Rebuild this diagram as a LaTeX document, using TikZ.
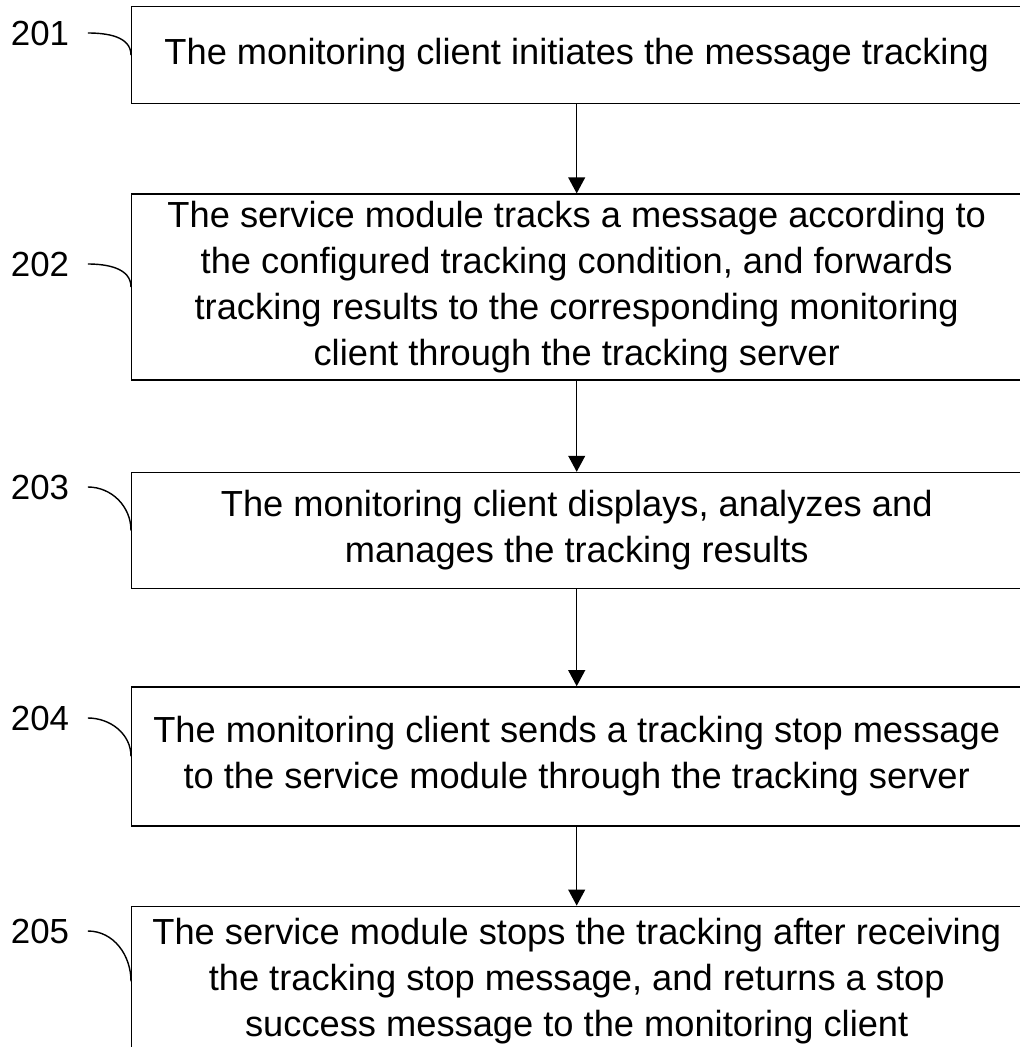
\documentclass[tikz,border=0pt]{standalone}
\usepackage{fontspec}
\setmainfont{Liberation Sans}
\usetikzlibrary{arrows.meta, positioning}

\begin{document}
\begin{tikzpicture}[
    > = {Triangle[length=0.4cm, width=0.42cm]}, % arrow head style
    line width = 1pt, % line style
    node distance = 2.2cm, % distance between boxes
    font=\fontsize{25.8}{32.6}\selectfont
]
\useasboundingbox (0,0) rectangle (25.5,-26.175);

\tikzstyle{stepbox}=[
    draw,
    rectangle,
    align=center,
    inner sep=2pt,
    minimum width=22.25cm,
]
\tikzstyle{steplabel}=[
    inner sep=0pt,
    font=\fontsize{24.8}{28}\selectfont
]
\node[stepbox, minimum height=2.425cm, anchor=north west] (s201) at (3.275,-0.15)
{The monitoring client initiates the message tracking};
\node[stepbox, minimum height=4.65cm] (s202) [below=2.225cm of s201]
{The service module tracks a message according to\\
the configured tracking condition, and forwards\\
tracking results to the corresponding monitoring\\
client through the tracking server};
\node[stepbox, minimum height=2.9cm] (s203) [below=2.275cm of s202]
{The monitoring client displays, analyzes and\\
manages the tracking results};
\node[stepbox, minimum height=3.475cm] (s204) [below=2.425cm of s203]
{The monitoring client sends a tracking stop message\\
to the service module through the tracking server};
\node[stepbox, minimum height=3.75cm] (s205) [below=1.975cm of s204]
{The service module stops the tracking after receiving\\
the tracking stop message, and returns a stop\\
success message to the monitoring client};

\node[steplabel] (l201) at (1.0,-0.825) {201};
\node[steplabel] (l202) at (1.0,-6.6) {202};
\node[steplabel] (l203) at (1.0,-12.175) {203};
\node[steplabel] (l204) at (1.0,-17.95) {204};
\node[steplabel] (l205) at (1.0,-23.275) {205};

\path[->] (s201) edge (s202);
\path[->] (s202) edge (s203);
\path[->] (s203) edge (s204);
\path[->] (s204) edge (s205);

\draw ([xshift=0.45cm]l201.east) to[out=0, in=90] (s201.west);
\draw ([xshift=0.45cm]l202.east) to[out=0, in=90] (s202.west);
\draw ([xshift=0.45cm]l203.east) to[out=0, in=90] (s203.west);
\draw ([xshift=0.45cm]l204.east) to[out=0, in=90] (s204.west);
\draw ([xshift=0.45cm]l205.east) to[out=0, in=90] (s205.west);
\end{tikzpicture}
\end{document}
